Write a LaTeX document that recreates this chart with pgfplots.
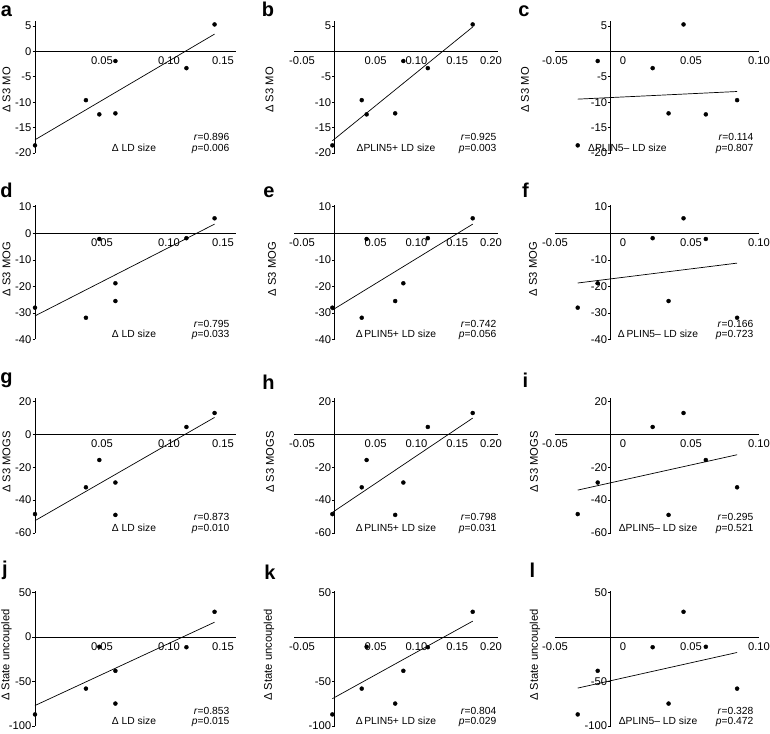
\documentclass[border=0pt]{standalone}
\usepackage{pgfplots}
\pgfplotsset{compat=1.18}
\usepackage{pgfplotstable}
\usepackage{fontspec}
\setmainfont{Liberation Sans}

\newcommand{\tfont}{\fontsize{11.2}{12}\selectfont}
\newcommand{\lfont}{\fontsize{10.3}{11}\selectfont}
\newcommand{\pfont}{\fontsize{20}{20}\selectfont\bfseries}
\newcommand{\yfont}{\fontsize{11.2}{12}\selectfont}
\newcommand{\Ls}[2]{\makebox[0pt]{#1\kern#2\relax}}
\newcommand{\Rs}[2]{\makebox[0pt]{\kern#2\relax #1}}

% subjects A..G: x in columns (LD size, PLIN5+ LD size, PLIN5- LD size), y in rows
\pgfplotstableread{
id X1 X2 X3 Y1 Y2 Y3 Y4
A 0.134 0.169 0.0445 5.3 5.7 13.0 28.3
B 0.113 0.114 0.0218 -3.3 -1.8 4.5 -11.5
C 0.060 0.084 -0.0186 -1.9 -18.8 -29.3 -38.0
D 0.038 0.033 0.0839 -9.6 -31.8 -32.2 -58.0
E 0.048 0.039 0.0609 -12.4 -2.1 -15.6 -11.0
F 0.060 0.074 0.0335 -12.2 -25.5 -49.0 -74.8
G 0.000 -0.003 -0.0333 -18.5 -28.0 -48.5 -87.0
}\subj

\pgfplotsset{
  panel/.style={
    scale only axis, anchor=south west, clip=false,
    axis lines=middle,
    axis line style={-, line width=0.8pt},
    every inner x axis line/.append style={-},
    every inner y axis line/.append style={-},
    hide obscured x ticks=false, hide obscured y ticks=false,
    tick label style={font=\tfont},
    xtick style={draw=none},
    ytick style={line width=0.8pt, black},
    major tick length=2.5pt,
    tick align=outside,
    xticklabel style={inner sep=2.5pt, anchor=north},
    yticklabel style={inner sep=1pt, anchor=east},
  },
  yax3/.style={
    scale only axis, anchor=south west, clip=false,
    width=148.2pt, xmin=-0.009, xmax=0.10,
    axis x line=none, axis y line=left,
    axis line style={-, line width=0.8pt},
    every outer y axis line/.append style={-},
    every inner y axis line/.append style={-},
    xtick=\empty,
    tick label style={font=\tfont},
    ytick style={line width=0.8pt, black},
    major tick length=2.5pt,
    tick align=outside,
    yticklabel style={inner sep=1pt, anchor=east},
  },
  dots/.style={only marks, mark=*, mark size=2pt, black},
  fit/.style={no marks, black, line width=0.7pt},
  col1/.style={width=201pt, xmin=0, xmax=0.15, xtick={0.05,0.10,0.15},
    xticklabels={0.05,0.10,\Ls{0.15}{26pt}}},
  col2/.style={width=204pt, xmin=-0.05, xmax=0.20, xtick={-0.05,0.05,0.10,0.15,0.20},
    xticklabels={\Rs{-0.05}{16pt},0.05,0.10,0.15,\Ls{0.20}{14pt}}},
  col3/.style={width=204pt, xmin=-0.05, xmax=0.10, xtick={-0.05,0,0.05,0.10},
    xticklabels={-0.05,0,0.05,0.10}, axis y line=none, ytick=\empty},
  r1/.style={height=131.6pt, ymin=-20, ymax=5.9},
  r1z/.style={r1, ytick={-20,-15,-10,-5,0,5}, yticklabels={-20,-15,-10,-5,0,5}},
  r1n/.style={r1, ytick={-20,-15,-10,-5,5}, yticklabels={-20,-15,-10,-5,5}},
  r2/.style={height=134.2pt, ymin=-40, ymax=10.6},
  r2z/.style={r2, ytick={-40,-30,-20,-10,0,10}, yticklabels={-40,-30,-20,-10,0,10}},
  r2n/.style={r2, ytick={-40,-30,-20,-10,10}, yticklabels={-40,-30,-20,-10,10}},
  r3/.style={height=134.8pt, ymin=-60, ymax=22},
  r3z/.style={r3, ytick={-60,-40,-20,0,20}, yticklabels={-60,-40,-20,0,20}},
  r3n/.style={r3, ytick={-60,-40,-20,20}, yticklabels={-60,-40,-20,20}},
  r4/.style={height=135.3pt, ymin=-100, ymax=52},
  r4z/.style={r4, ytick={-100,-50,0,50}, yticklabels={-100,-50,0,50}},
  r4n/.style={r4, ytick={-100,-50,50}, yticklabels={-100,-50,50}},
}

\newcommand{\ann}[5]{%
  \node[font=\lfont, inner sep=0pt, anchor=base, yshift=1.5pt] at (rel axis cs:#1,0) {#2};
  \node[font=\lfont, inner sep=0pt, anchor=base east, yshift=12pt] at (rel axis cs:#3,0) {\textit{r}=#4};
  \node[font=\lfont, inner sep=0pt, anchor=base east, yshift=1.5pt] at (rel axis cs:#3,0) {\textit{p}=#5};
}

\begin{document}
\begin{tikzpicture}
\useasboundingbox (0pt,0pt) rectangle (770pt,733pt);

% ---------------- Row 1 : S3 MO ----------------
\begin{axis}[panel, col1, r1z, at={(35pt,580pt)}]
  \addplot[dots] table[x=X1, y=Y1] {\subj};
  \addplot[fit] coordinates {(0,-17.4) (0.134,3.4)};
  \ann{0.4925}{Δ LD size}{0.968}{0.896}{0.006}
\end{axis}
\begin{axis}[panel, col2, r1n, at={(294pt,580pt)}]
  \addplot[dots] table[x=X2, y=Y1] {\subj};
  \addplot[fit] coordinates {(-0.003,-17.6) (0.169,4.8)};
  \ann{0.50}{ΔPLIN5+ LD size}{0.993}{0.925}{0.003}
\end{axis}
\begin{axis}[panel, col3, r1, at={(555pt,580pt)}]
  \addplot[dots] table[x=X3, y=Y1] {\subj};
  \addplot[fit] coordinates {(-0.0333,-9.4) (0.0839,-7.9)};
  \ann{0.355}{ΔPLIN5– LD size}{0.973}{0.114}{0.807}
\end{axis}
\begin{axis}[yax3, r1n, at={(610.8pt,580pt)}]
\end{axis}

% ---------------- Row 2 : S3 MOG ----------------
\begin{axis}[panel, col1, r2z, at={(35pt,393.5pt)}]
  \addplot[dots] table[x=X1, y=Y2] {\subj};
  \addplot[fit] coordinates {(0,-31.1) (0.134,3.5)};
  \ann{0.4925}{Δ LD size}{0.968}{0.795}{0.033}
\end{axis}
\begin{axis}[panel, col2, r2n, at={(294pt,393.5pt)}]
  \addplot[dots] table[x=X2, y=Y2] {\subj};
  \addplot[fit] coordinates {(-0.003,-28.9) (0.169,3.5)};
  \ann{0.50}{Δ\,PLIN5+ LD size}{0.993}{0.742}{0.056}
\end{axis}
\begin{axis}[panel, col3, r2, at={(555pt,393.5pt)}]
  \addplot[dots] table[x=X3, y=Y2] {\subj};
  \addplot[fit] coordinates {(-0.0333,-18.7) (0.0839,-11.2)};
  \ann{0.505}{Δ\,PLIN5– LD size}{0.973}{0.166}{0.723}
\end{axis}
\begin{axis}[yax3, r2n, at={(610.8pt,393.5pt)}]
\end{axis}

% ---------------- Row 3 : S3 MOGS ----------------
\begin{axis}[panel, col1, r3z, at={(35pt,200pt)}]
  \addplot[dots] table[x=X1, y=Y3] {\subj};
  \addplot[fit] coordinates {(0,-52.5) (0.134,10.3)};
  \ann{0.4925}{Δ LD size}{0.968}{0.873}{0.010}
\end{axis}
\begin{axis}[panel, col2, r3n, at={(294pt,200pt)}]
  \addplot[dots] table[x=X2, y=Y3] {\subj};
  \addplot[fit] coordinates {(-0.003,-47.5) (0.169,9.9)};
  \ann{0.50}{Δ\,PLIN5+ LD size}{0.993}{0.798}{0.031}
\end{axis}
\begin{axis}[panel, col3, r3, at={(555pt,200pt)}]
  \addplot[dots] table[x=X3, y=Y3] {\subj};
  \addplot[fit] coordinates {(-0.0333,-33.9) (0.0839,-12.4)};
  \ann{0.505}{ΔPLIN5– LD size}{0.973}{0.295}{0.521}
\end{axis}
\begin{axis}[yax3, r3n, at={(610.8pt,200pt)}]
\end{axis}

% ---------------- Row 4 : State uncoupled ----------------
\begin{axis}[panel, col1, r4z, at={(35pt,7pt)}]
  \addplot[dots] table[x=X1, y=Y4] {\subj};
  \addplot[fit] coordinates {(0,-77.0) (0.134,16.6)};
  \ann{0.4925}{Δ LD size}{0.968}{0.853}{0.015}
\end{axis}
\begin{axis}[panel, col2, r4n, at={(294pt,7pt)}]
  \addplot[dots] table[x=X2, y=Y4] {\subj};
  \addplot[fit] coordinates {(-0.003,-69.3) (0.169,17.8)};
  \ann{0.50}{Δ\,PLIN5+ LD size}{0.993}{0.804}{0.029}
\end{axis}
\begin{axis}[panel, col3, r4, at={(555pt,7pt)}]
  \addplot[dots] table[x=X3, y=Y4] {\subj};
  \addplot[fit] coordinates {(-0.0333,-57.4) (0.0839,-17.4)};
  \ann{0.505}{ΔPLIN5– LD size}{0.973}{0.328}{0.472}
\end{axis}
\begin{axis}[yax3, r4n, at={(610.8pt,7pt)}]
\end{axis}

% ---------------- y labels ----------------
\node[font=\yfont, rotate=90, anchor=center] at (6.5pt,643pt) {Δ S3 MO};
\node[font=\yfont, rotate=90, anchor=center] at (269.5pt,643pt) {Δ S3 MO};
\node[font=\yfont, rotate=90, anchor=center] at (525pt,643pt) {Δ S3 MO};
\node[font=\yfont, rotate=90, anchor=center] at (6.5pt,464pt) {Δ S3 MOG};
\node[font=\yfont, rotate=90, anchor=center] at (272pt,464pt) {Δ S3 MOG};
\node[font=\yfont, rotate=90, anchor=center] at (533pt,464pt) {Δ S3 MOG};
\node[font=\yfont, rotate=90, anchor=center] at (6.5pt,271pt) {Δ S3 MOGS};
\node[font=\yfont, rotate=90, anchor=center] at (270pt,271pt) {Δ S3 MOGS};
\node[font=\yfont, rotate=90, anchor=center] at (534pt,271pt) {Δ S3 MOGS};
\node[font=\yfont, rotate=90, anchor=center] at (6.5pt,78pt) {Δ State uncoupled};
\node[font=\yfont, rotate=90, anchor=center] at (269pt,78pt) {Δ State uncoupled};
\node[font=\yfont, rotate=90, anchor=center] at (535pt,78pt) {Δ State uncoupled};

% ---------------- panel letters ----------------
\node[font=\pfont, anchor=base] at (6.5pt,716.5pt) {a};
\node[font=\pfont, anchor=base] at (268pt,716.5pt) {b};
\node[font=\pfont, anchor=base] at (524pt,716.5pt) {c};
\node[font=\pfont, anchor=base] at (6.5pt,535.5pt) {d};
\node[font=\pfont, anchor=base] at (269pt,535pt) {e};
\node[font=\pfont, anchor=base] at (525.5pt,535pt) {f};
\node[font=\pfont, anchor=base] at (6.5pt,349pt) {g};
\node[font=\pfont, anchor=base] at (268.5pt,343pt) {h};
\node[font=\pfont, anchor=base] at (525.5pt,345pt) {i};
\node[font=\pfont, anchor=base] at (5pt,157pt) {j};
\node[font=\pfont, anchor=base] at (270pt,153pt) {k};
\node[font=\pfont, anchor=base] at (532.5pt,155pt) {l};
\end{tikzpicture}
\end{document}
